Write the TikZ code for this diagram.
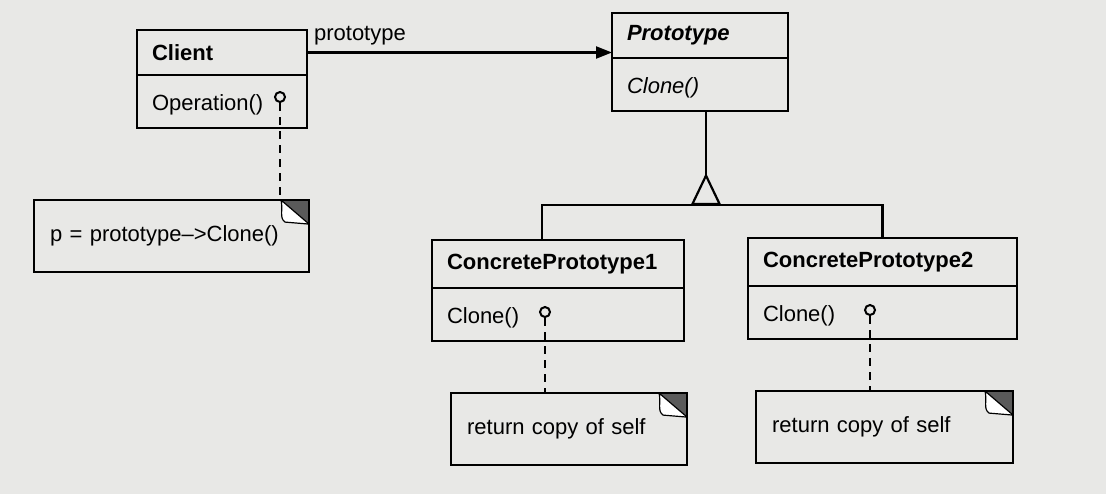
\documentclass[tikz,border=0pt]{standalone}
\usepackage{fontspec}
\setmainfont{Liberation Sans}
\usetikzlibrary{shapes, arrows.meta, positioning, calc}
\definecolor{paper}{RGB}{232,232,230}
\definecolor{foldgray}{RGB}{90,90,90}

\begin{document}
\begin{tikzpicture}[
    x=0.5pt, y=-0.5pt,
    % 1. styles
    font=\fontsize{11}{13}\selectfont,
    classname/.style={draw, line width=1.1pt, anchor=north west, outer sep=0pt, inner xsep=7.5pt, inner ysep=0pt, align=left, font=\fontsize{11}{13}\selectfont\bfseries},
    abstract/.style={font=\fontsize{11}{13}\selectfont\bfseries\itshape},
    classop/.style={draw, line width=1.1pt, outer sep=0pt, inner xsep=7.5pt, inner ysep=0pt, align=left, text height=17.5pt, text depth=9pt},
    lolli/.style={circle, draw, line width=1pt, fill=paper, minimum size=5pt, inner sep=0pt},
    notebox/.style={draw, line width=1.1pt, anchor=north west, minimum height=36pt, inner xsep=8pt, align=left,
        path picture={
            \fill[foldgray] (path picture bounding box.north east) -- ++(-14pt,0pt) -- ++(14pt,-12pt) -- cycle;
            \filldraw[fill=white, line width=0.6pt] ([xshift=-14pt]path picture bounding box.north east)
                .. controls +(1pt,-5pt) and +(-3pt,2pt) .. ++(2pt,-11pt)
                -- ([yshift=-12pt]path picture bounding box.north east) -- cycle;
        }},
    pinline/.style={line width=1.1pt, dash pattern=on 4pt off 3pt},
    assoc/.style={line width=1.1pt, -{Triangle[length=8pt, width=6pt]}},
    gen/.style={line width=1.1pt, {Triangle[open, reversed, length=16pt, width=15pt]}-},
    tree/.style={line width=1.1pt}
]
    \fill[paper] (0,0) rectangle (1106,494);
    \useasboundingbox (0,0) rectangle (1106,494);

    % =================================================================
    % I. Client and Prototype
    % =================================================================
    \node[classname, text width=70pt, minimum height=22.5pt] (ClientName) at (137,30) {Client};
    \node[classop, text width=70pt, below=0pt of ClientName] (ClientOp) {Operation()};
    \node[lolli] (ClientPin) at (280,97) {};

    \node[classname, abstract, text width=73pt, minimum height=22.5pt] (ProtoName) at (612,13) {Prototype};
    \node[classop, font=\fontsize{11}{13}\selectfont\itshape, text width=73pt, below=0pt of ProtoName] (ProtoOp) {Clone()};

    % =================================================================
    % II. Concrete prototypes
    % =================================================================
    \node[classname, text width=111pt, minimum height=24pt] (CP1Name) at (432,240) {ConcretePrototype1};
    \node[classop, text width=111pt, below=0pt of CP1Name] (CP1Op) {Clone()};
    \node[lolli] (CP1Pin) at (545,312) {};

    \node[classname, text width=119.5pt, minimum height=24pt] (CP2Name) at (748,238) {ConcretePrototype2};
    \node[classop, text width=119.5pt, below=0pt of CP2Name] (CP2Op) {Clone()};
    \node[lolli] (CP2Pin) at (870,310) {};

    % =================================================================
    % III. Notes
    % =================================================================
    \node[notebox, text width=121.5pt] (ClientNote) at (33,199) {p = prototype\textendash>Clone()};
    \node[notebox, text width=102pt] (CP1Note) at (450,392) {return copy of self};
    \node[notebox, text width=112.5pt] (CP2Note) at (755,390) {return copy of self};

    % =================================================================
    % IV. Connectors
    % =================================================================
    \draw[assoc] (ClientName.east) -- (ClientName.east -| ProtoName.west)
        node[pos=0, above right, inner sep=3pt] (ProtoLabel) {prototype};

    \coordinate (fork) at (706,205);
    \draw[gen] (fork) -- (fork |- ProtoOp.south);
    \draw[tree] ([xshift=-8pt]CP1Name.north) |- (fork) -| (CP2Name.north);

    \draw[pinline] (ClientPin) -- (ClientPin |- ClientNote.north);
    \draw[pinline] (CP1Pin) -- (CP1Pin |- CP1Note.north);
    \draw[pinline] (CP2Pin) -- (CP2Pin |- CP2Note.north);

\end{tikzpicture}
\end{document}
